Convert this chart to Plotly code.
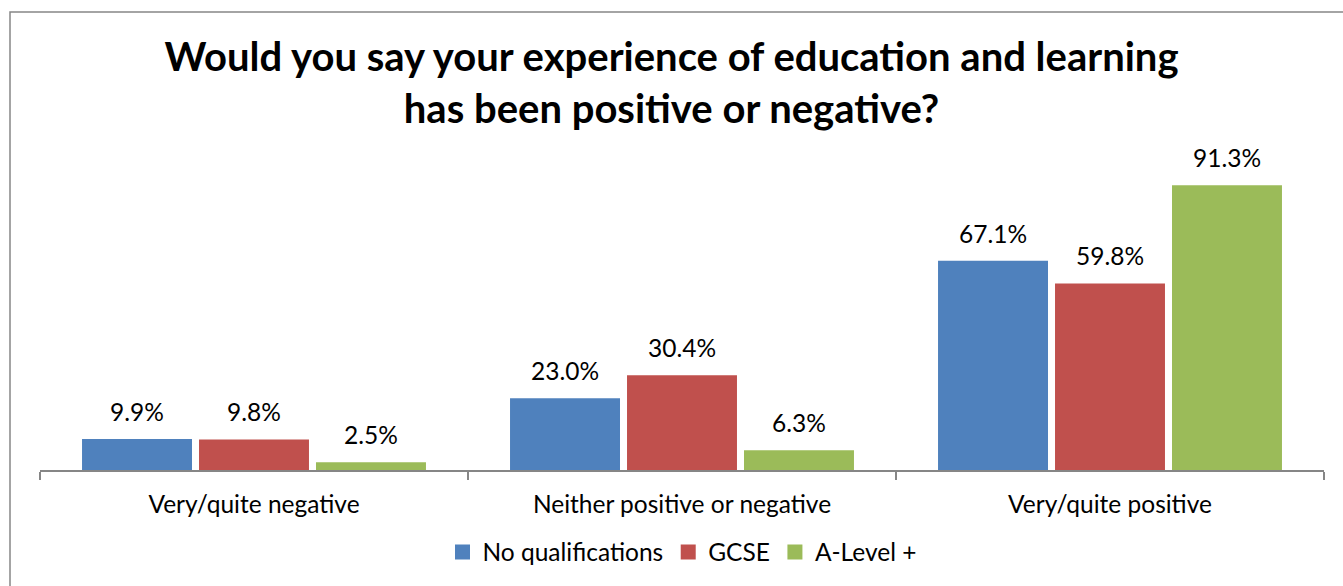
import plotly.graph_objects as go

categories = ["Very/quite negative", "Neither positive or negative", "Very/quite positive"]
series_names = ["No qualifications", "GCSE", "A-Level +"]
no_qualifications = [9.9, 23.0, 67.1]
gcse = [9.8, 30.4, 59.8]
a_level = [2.5, 6.3, 91.3]
colors = ["#4F81BD", "#C0504D", "#9BBB59"]

FONT = "Lato"
LABEL_SIZE = 24.5

W, H = 1343, 586
ml, mr, mt, mb = 40, 19, 158, 116
pw, ph = W - ml - mr, H - mt - mb
BARGAP, GROUPGAP = 0.18, 0.06
slot = pw / len(categories) * (1 - BARGAP) / len(series_names)

all_series = [no_qualifications, gcse, a_level]

fig = go.Figure()
for name, vals, col in zip(series_names, all_series, colors):
    fig.add_trace(go.Bar(
        x=categories, y=vals, name=name,
        marker=dict(color=col, line=dict(width=0)),
        showlegend=False, hoverinfo="x+y+name",
    ))
# legend entries with square swatches
for name, col in zip(series_names, colors):
    fig.add_trace(go.Scatter(
        x=[None], y=[None], mode="markers", name=name,
        marker=dict(symbol="square", size=15, color=col),
    ))

# value labels above each bar
annotations = []
for i, vals in enumerate(all_series):
    for cat, v in zip(categories, vals):
        annotations.append(dict(
            x=cat, y=v, xref="x", yref="y",
            text=f"{v:.1f}%", showarrow=False,
            xanchor="center", yanchor="bottom",
            xshift=(i - 1) * slot, yshift=11,
            font=dict(family=FONT, size=LABEL_SIZE, color="#000000"),
        ))

fig.update_layout(
    width=W, height=H,
    margin=dict(l=ml, r=mr, t=mt, b=mb),
    paper_bgcolor="white", plot_bgcolor="white",
    barmode="group", bargap=BARGAP, bargroupgap=GROUPGAP,
    title=dict(
        text="<b>Would you say your experience of education and learning<br>has been positive or negative?</b>",
        x=0.5, xanchor="center", y=1 - 70.5 / H, yanchor="middle",
        font=dict(family=FONT, size=40, color="#000000"),
    ),
    font=dict(family=FONT, size=LABEL_SIZE, color="#000000"),
    showlegend=True,
    legend=dict(
        orientation="h", x=0.5, xanchor="center",
        y=-(552 - (mt + ph)) / ph, yanchor="middle",
        font=dict(family=FONT, size=LABEL_SIZE, color="#000000"),
        itemwidth=30, traceorder="normal",
    ),
    xaxis=dict(
        showline=True, linecolor="#868686", linewidth=1.5,
        ticks="outside", tickson="boundaries", ticklen=8, tickcolor="#868686", tickwidth=1.5,
        tickfont=dict(family=FONT, size=LABEL_SIZE, color="#000000"),
        ticklabelstandoff=12,
        showgrid=False,
    ),
    yaxis=dict(range=[0, 100], visible=False, showgrid=False),
    annotations=annotations,
    shapes=[dict(
        type="rect", xref="paper", yref="paper",
        x0=(10 - ml) / pw, x1=(W + 20 - ml) / pw,
        y0=-(H + 20 - mt - ph) / ph, y1=(mt + ph - 12) / ph,
        line=dict(color="#868686", width=1.5), layer="below",
    )],
)

fig.write_html("out.html")
